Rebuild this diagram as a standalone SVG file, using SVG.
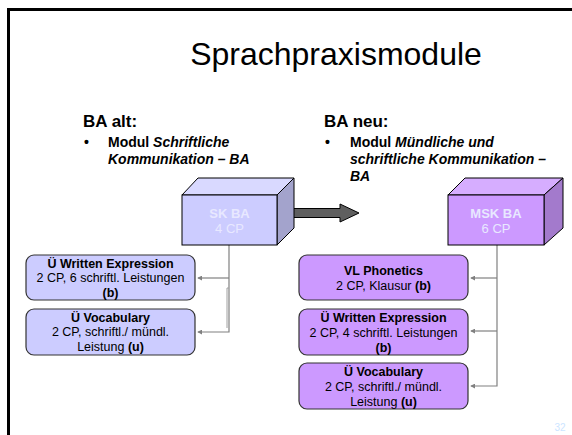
<svg xmlns="http://www.w3.org/2000/svg" width="572" height="435" viewBox="0 0 572 435">
<defs>
<style>
text{font-family:"Liberation Sans",Arial,sans-serif;}
.title{font-size:32px;fill:#000;}
.hdr{font-size:17px;font-weight:bold;fill:#000;}
.bul{font-size:14px;font-weight:bold;fill:#000;}
.bt{font-size:12.5px;fill:#000;text-anchor:middle;}
.b{font-weight:bold;}
.cube{font-size:13px;fill:#E8E8FF;text-anchor:middle;}
.box1{fill:#CCCCFF;stroke:#333;stroke-width:1.2;}
.box2{fill:#CC99FF;stroke:#333;stroke-width:1.2;}
.con{fill:none;stroke:#808080;stroke-width:1.2;}
</style>
<marker id="ah" viewBox="0 0 6 6" refX="5" refY="3" markerWidth="5" markerHeight="5" orient="auto" markerUnits="userSpaceOnUse">
<path d="M0,0 L6,3 L0,6 z" fill="#808080"/>
</marker>
</defs>
<rect x="0" y="0" width="572" height="435" fill="#fff"/>
<path d="M8.5,440 V9.5 H580" fill="none" stroke="#000" stroke-width="3"/>
<text class="title" x="336" y="65" text-anchor="middle">Sprachpraxismodule</text>

<g id="ba-alt">
<text class="hdr" x="83" y="127">BA alt:</text>
<text class="bul" x="84" y="147" font-size="11">•</text>
<text class="bul" x="108" y="147">Modul <tspan font-style="italic">Schriftliche</tspan></text>
<text class="bul" x="108" y="164" font-style="italic">Kommunikation – BA</text>
</g>
<g id="ba-neu">
<text class="hdr" x="324" y="127">BA neu:</text>
<text class="bul" x="325" y="147" font-size="11">•</text>
<text class="bul" x="350" y="147">Modul <tspan font-style="italic">Mündliche und</tspan></text>
<text class="bul" x="350" y="164" font-style="italic">schriftliche Kommunikation –</text>
<text class="bul" x="350" y="181" font-style="italic">BA</text>
</g>

<g id="connectors">
<path class="con" d="M229,245 V332 H198" marker-end="url(#ah)"/>
<path class="con" d="M229,278 H198" marker-end="url(#ah)"/>
<path d="M229,288 H227 V328" fill="none" stroke="#a0a0a0" stroke-width="1"/>
<path d="M497,245 V386 H471" class="con" marker-end="url(#ah)"/>
<path d="M497,278 H471" class="con" marker-end="url(#ah)"/>
<path d="M497,331 H471" class="con" marker-end="url(#ah)"/>
<path id="big-arrow" d="M289,208.5 H340 V204 L359,213 L340,222 V217.5 H289 z" fill="#5f5f5f" stroke="#000" stroke-width="1"/>
</g>

<g id="sk-ba">
<path d="M182,195 L198,178 H294 L277,195 z" fill="#D9D9FF" stroke="#000" stroke-width="1"/>
<path d="M277,195 L294,178 V228 L277,245 z" fill="#A3A3CC" stroke="#000" stroke-width="1"/>
<rect x="182" y="195" width="95" height="50" fill="#CCCCFF" stroke="#000" stroke-width="1"/>
<text class="cube b" x="229.5" y="218">SK BA</text>
<text class="cube" x="229.5" y="233">4 CP</text>
</g>
<g id="msk-ba">
<path d="M448,195 L465,178 H563 L544,195 z" fill="#D6ADFF" stroke="#000" stroke-width="1"/>
<path d="M544,195 L563,178 V228 L544,245 z" fill="#A37ACC" stroke="#000" stroke-width="1"/>
<rect x="448" y="195" width="96" height="50" fill="#CC99FF" stroke="#000" stroke-width="1"/>
<text class="cube b" x="496" y="218">MSK BA</text>
<text class="cube" x="496" y="233">6 CP</text>
</g>

<g id="alt-written">
<rect class="box1" x="26" y="255" width="169" height="45" rx="8"/>
<text class="bt b" x="110.5" y="268">Ü Written Expression</text>
<text class="bt" x="110.5" y="282">2 CP, 6 schriftl.  Leistungen</text>
<text class="bt b" x="110.5" y="297">(b)</text>
</g>
<g id="alt-vocab">
<rect class="box1" x="26" y="309" width="169" height="46" rx="8"/>
<text class="bt b" x="110.5" y="322">Ü Vocabulary</text>
<text class="bt" x="110.5" y="336">2 CP, schriftl./ mündl.</text>
<text class="bt" x="110.5" y="351">Leistung <tspan class="b">(u)</tspan></text>
</g>

<g id="neu-phonetics">
<rect class="box2" x="299" y="255" width="169" height="45" rx="8"/>
<text class="bt b" x="383.5" y="275">VL Phonetics</text>
<text class="bt" x="383.5" y="290">2 CP, Klausur <tspan class="b">(b)</tspan></text>
</g>
<g id="neu-written">
<rect class="box2" x="299" y="309" width="169" height="46" rx="8"/>
<text class="bt b" x="383.5" y="322">Ü Written Expression</text>
<text class="bt" x="383.5" y="337">2 CP, 4 schriftl.  Leistungen</text>
<text class="bt b" x="383.5" y="352">(b)</text>
</g>
<g id="neu-vocab">
<rect class="box2" x="299" y="363" width="169" height="46" rx="8"/>
<text class="bt b" x="383.5" y="376">Ü Vocabulary</text>
<text class="bt" x="383.5" y="391">2 CP, schriftl./ mündl.</text>
<text class="bt" x="383.5" y="406">Leistung <tspan class="b">(u)</tspan></text>
</g>

<text x="560" y="431" font-size="10" fill="#CCE5FF" text-anchor="middle" style="font-family:'Liberation Sans',Arial,sans-serif">32</text>
</svg>
